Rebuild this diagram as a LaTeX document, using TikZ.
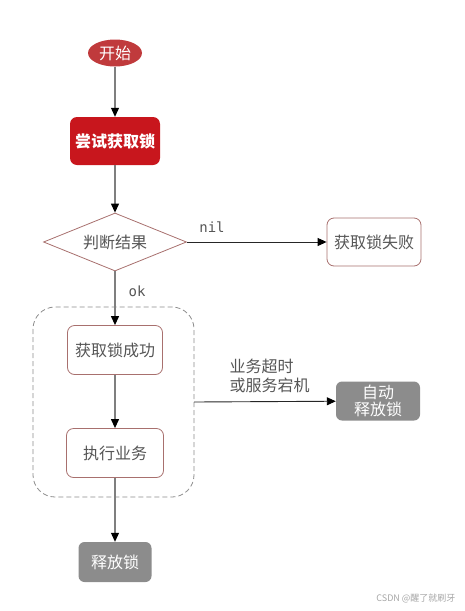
\documentclass[tikz,border=0pt]{standalone}
\usepackage{fontspec}
\setmainfont{Noto Sans CJK SC}
\setmonofont{DejaVu Sans Mono}
\usetikzlibrary{arrows.meta,shapes.geometric}

\definecolor{startred}{HTML}{C03A3C}
\definecolor{lockred}{HTML}{C8161D}
\definecolor{boxedge}{HTML}{A8706E}
\definecolor{boxtext}{HTML}{555555}
\definecolor{greybox}{HTML}{8C8C8C}
\definecolor{linegrey}{HTML}{7F7F7F}

\tikzset{
  stepnode/.style={draw=boxedge, line width=0.8pt, rounded corners=7pt, fill=white,
    text=boxtext, minimum width=95pt, minimum height=49pt, font=\fontsize{16}{19}\selectfont},
  greynode/.style={fill=greybox, rounded corners=6pt, text=white,
    font=\fontsize{16}{18}\selectfont, align=center},
  flow/.style={draw=linegrey, line width=1.1pt, -{Triangle[length=9pt,width=8pt,color=black]}},
  edgelabel/.style={text=boxtext, font=\fontsize{16}{19}\selectfont}
}

\begin{document}
\begin{tikzpicture}[x=1pt, y=-1pt]
  \useasboundingbox (0,0) rectangle (465,611);

  % start and first lock attempt
  \node[ellipse, fill=startred, text=white, minimum width=54pt, minimum height=27pt,
    inner sep=0pt, font=\fontsize{16}{19}\selectfont] (start) at (115,53) {开始};
  \node[fill=lockred, rounded corners=7pt, text=white, minimum width=90pt, minimum height=48pt,
    font=\bfseries\fontsize{16}{19}\selectfont] (try) at (115,141) {尝试获取锁};

  % decision
  \node[diamond, aspect=2.45, draw=boxedge, line width=0.8pt, fill=white, text=boxtext,
    minimum width=143pt, minimum height=58pt, inner sep=0pt,
    font=\fontsize{16}{19}\selectfont] (judge) at (115,242) {判断结果};
  \node[stepnode, minimum width=94pt, minimum height=48pt] (fail) at (374,242) {获取锁失败};

  % locked region
  \draw[dash pattern=on 5pt off 3pt, draw=black!45, line width=0.8pt, rounded corners=22pt]
    (33,307) rectangle (194,497);
  \coordinate (region) at (194,402);
  \node[stepnode] (got) at (115,350) {获取锁成功};
  \node[stepnode, minimum width=97pt] (work) at (115,453) {执行业务};

  % release
  \node[greynode, minimum width=84pt, minimum height=39pt, inner sep=0pt] (auto) at (378,401)
    {自动\\[-1pt]释放锁};
  \node[greynode, minimum width=73pt, minimum height=40pt] (release) at (115,562) {释放锁};

  % connectors
  \draw[flow] (start) -- (try);
  \draw[flow] (try) -- (judge);
  \draw[flow, draw=black!85, line width=0.9pt] (judge) -- (fail);
  \draw[flow] (judge) -- (got);
  \draw[flow] (got) -- (work);
  \draw[flow] (work) -- (release);
  \draw[flow, draw=black!85, line width=0.9pt] (region) -- (auto);

  % labels
  \node[edgelabel, font=\ttfamily\fontsize{14}{16}\selectfont] (nil) at (212,227) {nil};
  \node[edgelabel, font=\ttfamily\fontsize{14}{16}\selectfont] (ok) at (137,291) {ok};
  \node[edgelabel, anchor=west, align=left] (why) at (226,376) {业务超时\\[0pt]或服务宕机};

  % watermark
  \node[text=black!35, anchor=east, font=\fontsize{9}{10}\selectfont] (mark) at (459,598)
    {CSDN @醒了就刷牙};
\end{tikzpicture}
\end{document}
